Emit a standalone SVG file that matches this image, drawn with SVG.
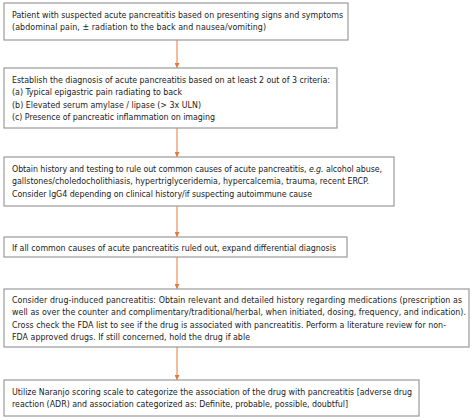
<svg xmlns="http://www.w3.org/2000/svg" width="474" height="420" viewBox="0 0 474 420">
<style>
.box{fill:#fff;stroke:#9a9a9a;stroke-width:1.2}
.t{font-family:"DejaVu Sans Condensed","DejaVu Sans",sans-serif;font-size:8.8px;fill:#1a1a1a}
.c{stroke:#e8783a;stroke-width:1;fill:none}
</style>
<defs>
<marker id="ah" viewBox="0 0 6 6" refX="6" refY="3" markerWidth="5" markerHeight="5" markerUnits="userSpaceOnUse" orient="auto">
<path d="M0,0 L6,3 L0,6 z" fill="#e8783a"/>
</marker>
</defs>
<rect width="474" height="420" fill="#fff"/>
<g id="connectors">
<line class="c" x1="177" y1="40" x2="177" y2="68" marker-end="url(#ah)"/>
<line class="c" x1="177" y1="128" x2="177" y2="157" marker-end="url(#ah)"/>
<line class="c" x1="177" y1="206" x2="177" y2="237" marker-end="url(#ah)"/>
<line class="c" x1="177" y1="257" x2="177" y2="289" marker-end="url(#ah)"/>
<line class="c" x1="177" y1="347" x2="177" y2="380" marker-end="url(#ah)"/>
</g>
<g id="n1">
<rect class="box" x="4" y="3" width="344" height="37"/>
<text class="t" x="12" y="17.5" textLength="331">Patient with suspected acute pancreatitis based on presenting signs and symptoms</text>
<text class="t" x="12" y="30" textLength="254">(abdominal pain, ± radiation to the back and nausea/vomiting)</text>
</g>
<g id="n2">
<rect class="box" x="4" y="68" width="333" height="60"/>
<text class="t" x="12" y="82.5" textLength="318">Establish the diagnosis of acute pancreatitis based on at least 2 out of 3 criteria:</text>
<text class="t" x="12" y="95" textLength="170">(a) Typical epigastric pain radiating to back</text>
<text class="t" x="12" y="107.5" textLength="189">(b) Elevated serum amylase / lipase (&gt; 3x ULN)</text>
<text class="t" x="12" y="120" textLength="203">(c) Presence of pancreatic inflammation on imaging</text>
</g>
<g id="n3">
<rect class="box" x="4" y="157" width="390" height="49"/>
<text class="t" x="12" y="171.5" textLength="370">Obtain history and testing to rule out common causes of acute pancreatitis, <tspan font-style="italic">e.g.</tspan> alcohol abuse,</text>
<text class="t" x="12" y="184" textLength="357">gallstones/choledocholithiasis, hypertriglyceridemia, hypercalcemia, trauma, recent ERCP.</text>
<text class="t" x="12" y="196.5" textLength="300">Consider IgG4 depending on clinical history/if suspecting autoimmune cause</text>
</g>
<g id="n4">
<rect class="box" x="4" y="237" width="343" height="20"/>
<text class="t" x="12" y="250.5" textLength="324">If all common causes of acute pancreatitis ruled out, expand differential diagnosis</text>
</g>
<g id="n5">
<rect class="box" x="4" y="289" width="465" height="58"/>
<text class="t" x="12" y="302.5" textLength="450">Consider drug-induced pancreatitis: Obtain relevant and detailed history regarding medications (prescription as</text>
<text class="t" x="12" y="315" textLength="454">well as over the counter and complimentary/traditional/herbal, when initiated, dosing, frequency, and indication).</text>
<text class="t" x="12" y="327.5" textLength="434">Cross check the FDA list to see if the drug is associated with pancreatitis. Perform a literature review for non-</text>
<text class="t" x="12" y="340" textLength="238">FDA approved drugs. If still concerned, hold the drug if able</text>
</g>
<g id="n6">
<rect class="box" x="4" y="380" width="415" height="36"/>
<text class="t" x="12" y="394.5" textLength="400">Utilize Naranjo scoring scale to categorize the association of the drug with pancreatitis [adverse drug</text>
<text class="t" x="12" y="407" textLength="336">reaction (ADR) and association categorized as: Definite, probable, possible, doubtful]</text>
</g>
</svg>
